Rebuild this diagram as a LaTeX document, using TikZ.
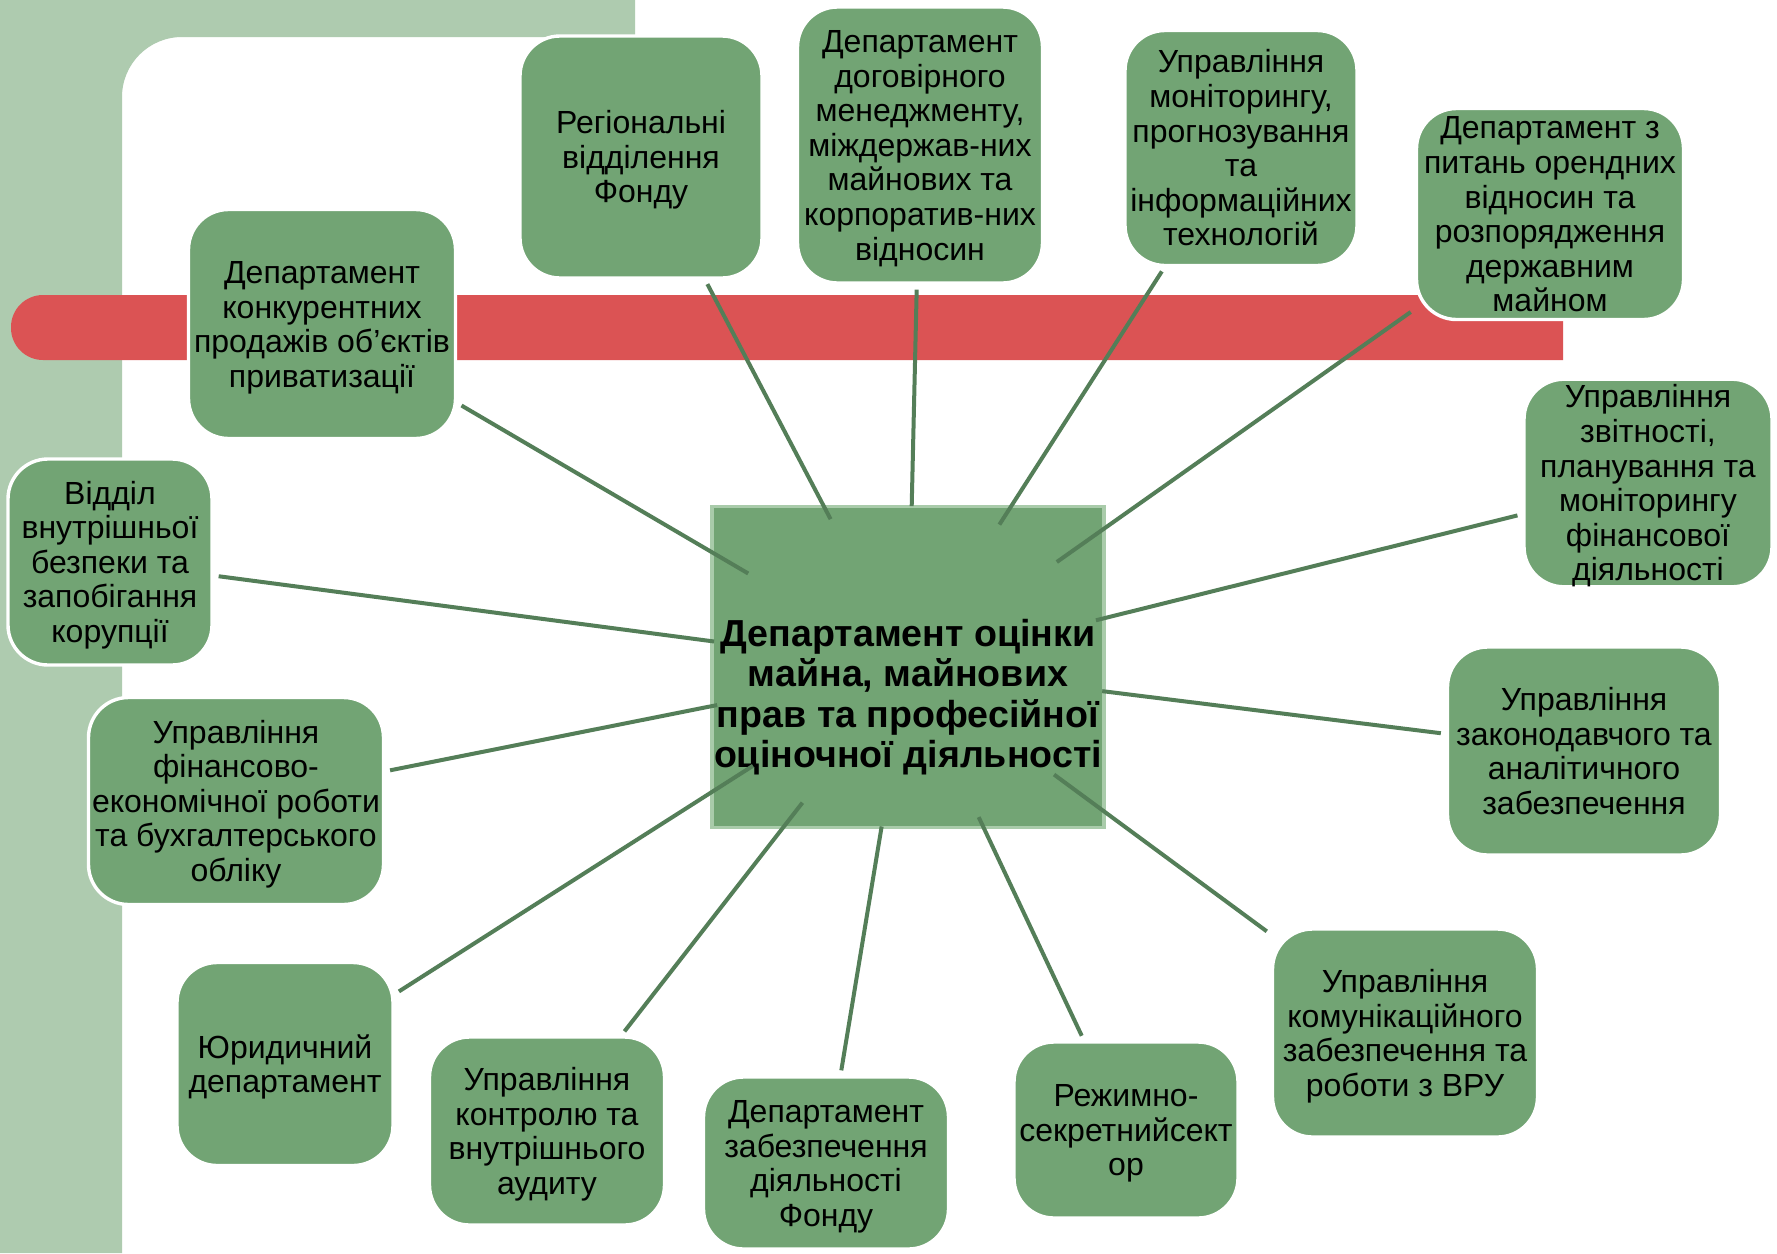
\documentclass[tikz,border=0pt]{standalone}
\usepackage{fontspec}
\setmainfont{Liberation Sans}
\usetikzlibrary{shapes.geometric}

\definecolor{bandgreen}{RGB}{174,203,175}
\definecolor{boxgreen}{RGB}{114,164,116}
\definecolor{linkgreen}{RGB}{84,126,88}
\definecolor{barred}{RGB}{219,83,84}
\definecolor{rimgreen}{RGB}{169,203,170}

\newcommand{\unitlines}[1]{\raisebox{-2.2pt}[\height][\depth]{\begin{tabular}{@{}c@{}}#1\end{tabular}}}

\begin{document}
\begin{tikzpicture}[x=0.5pt,y=-0.5pt,
    unit/.style={rectangle, rounded corners=20pt, fill=boxgreen, draw=white,
        line width=1.7pt, inner sep=0pt,
        font=\fontsize{16}{17.3}\selectfont},
    link/.style={draw=linkgreen, line width=2pt, shorten <=2.5pt}]
\useasboundingbox (0,0) rectangle (1777,1253);
\fill[white] (0,0) rectangle (1777,1253);
\fill[bandgreen] (0,0) -- (635,0) -- (635,37) [rounded corners=30pt] -- (122,37) [sharp corners] -- (122,1253) -- (0,1253) -- cycle;
\fill[barred] (1563,295) [rounded corners=16pt] -- (11,295) -- (11,360) [sharp corners] -- (1563,360) -- cycle;

\node[rectangle, fill=boxgreen, draw=rimgreen, line width=1.6pt,
    minimum width=196pt, minimum height=160.5pt] (core) at (908,667) {};
\node[ellipse, inner sep=0pt, minimum width=196pt, minimum height=160.5pt] (coreE) at (908,667) {};
\node[align=center, font=\fontsize{18.8}{20.2}\selectfont\bfseries] (coretext) at (908,697)
    {Департамент оцінки\\майна, майнових\\прав та професійної\\оціночної діяльності};

\node[unit, minimum width=121pt, minimum height=121pt] (reg) at (641,157) {\unitlines{Регіональні\\відділення\\Фонду}};
\node[unit, minimum width=122.5pt, minimum height=138pt] (dog) at (920,145) {\unitlines{Департамент\\договірного\\менеджменту,\\міждержав-них\\майнових та\\корпоратив-них\\відносин}};
\node[unit, minimum width=116pt, minimum height=117.5pt] (mon) at (1241,148) {\unitlines{Управління\\моніторингу,\\прогнозування\\та\\інформаційних\\технологій}};
\node[unit, minimum width=133.5pt, minimum height=105.5pt] (ore) at (1550,214) {\unitlines{Департамент з\\питань орендних\\відносин та\\розпорядження\\державним\\майном}};
\node[unit, minimum width=133.5pt, minimum height=114.5pt] (kon) at (322,324) {\unitlines{Департамент\\конкурентних\\продажів об’єктів\\приватизації}};
\node[unit, minimum width=102pt, minimum height=103pt] (bez) at (110,562) {\unitlines{Відділ\\внутрішньої\\безпеки та\\запобігання\\корупції}};
\node[unit, minimum width=147.5pt, minimum height=103.5pt] (fin) at (236,801) {\unitlines{Управління\\фінансово-\\економічної роботи\\та бухгалтерського\\обліку}};
\node[unit, minimum width=108pt, minimum height=101.5pt] (yur) at (285,1064) {\unitlines{Юридичний\\департамент}};
\node[unit, minimum width=117.5pt, minimum height=94pt] (aud) at (547,1131) {\unitlines{Управління\\контролю та\\внутрішнього\\аудиту}};
\node[unit, minimum width=122.5pt, minimum height=86pt] (zab) at (826,1163) {\unitlines{Департамент\\забезпечення\\діяльності\\Фонду}};
\node[unit, minimum width=112pt, minimum height=88pt] (rez) at (1126,1130) {\unitlines{Режимно-\\секретнийсект\\ор}};
\node[unit, minimum width=132.5pt, minimum height=104pt] (kom) at (1405,1033) {\unitlines{Управління\\комунікаційного\\забезпечення та\\роботи з ВРУ}};
\node[unit, minimum width=136.5pt, minimum height=104pt] (zak) at (1584,751) {\unitlines{Управління\\законодавчого та\\аналітичного\\забезпечення}};
\node[unit, minimum width=124pt, minimum height=101pt] (zvi) at (1648,483) {\unitlines{Управління\\звітності,\\планування та\\моніторингу\\фінансової\\діяльності}};

\foreach \u in {reg,dog,mon,ore,kon,bez,fin,yur,aud,zab,rez,kom,zak,zvi}
    \draw[link] (\u) -- (coreE);
\end{tikzpicture}
\end{document}
